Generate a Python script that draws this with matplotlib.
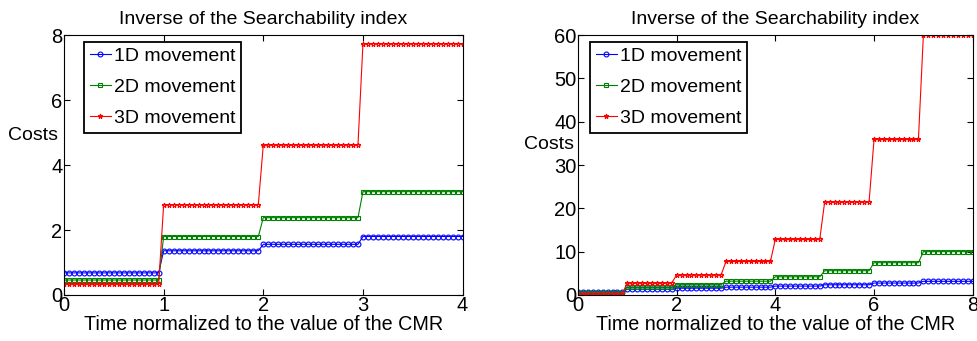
import numpy as np
import matplotlib
matplotlib.use("Agg")
from matplotlib import pyplot as plt

# step levels (one value per CMR interval)
lvl_1d = [0.68, 1.36, 1.56, 1.80, 2.05, 2.35, 2.75, 3.15]
lvl_2d = [0.46, 1.80, 2.38, 3.18, 4.2, 5.6, 7.45, 10.0]
lvl_3d = [0.33, 2.78, 4.62, 7.74, 12.85, 21.5, 35.9, 60.0]
labels = ['1D movement', '2D movement', '3D movement']
colors = ['#0000ff', '#008000', '#ff0000']
markers = ['o', 's', '*']

plt.rcParams['font.family'] = ['Liberation Sans', 'DejaVu Sans']

fig = plt.figure(figsize=(9.77, 3.41), dpi=100)
ax1 = fig.add_axes([0.0655, 0.135, 0.408, 0.762])
ax2 = fig.add_axes([0.5916, 0.135, 0.404, 0.762])

def series(levels, n_units, per_unit):
    # sample points: per_unit samples inside each unit, value jumps at integer x
    x = np.arange(n_units * per_unit + 1) / per_unit
    idx = np.minimum(np.floor(x + 1e-9).astype(int), n_units - 1)
    return x, np.array(levels)[idx]

def draw(ax, n_units, per_unit, ymax, yticks, leg_x, ylab_pos):
    for lv, lab, c, m in zip([lvl_1d, lvl_2d, lvl_3d], labels, colors, markers):
        x, y = series(lv[:n_units], n_units, per_unit)
        ax.plot(x, y, color=c, marker=m, markersize=3.5, markerfacecolor='none',
                markeredgewidth=0.8, linewidth=0.8, label=lab)
    ax.set_xlim(0, n_units)
    ax.set_ylim(0, ymax)
    ax.set_yticks(yticks)
    ax.tick_params(direction='in', top=True, right=True, labelsize=14.5, length=4, pad=1)
    ax.set_title('Inverse of the Searchability index', fontsize=14, pad=8)
    ax.set_xlabel('Time normalized to the value of the CMR', fontsize=14.2, labelpad=0)
    ax.set_ylabel('Costs', fontsize=14, rotation=0, va='center', ha='center')
    ax.yaxis.set_label_coords(ylab_pos[0], ylab_pos[1])
    leg = ax.legend(loc='upper left', bbox_to_anchor=(leg_x, 0.975), fontsize=14,
                    fancybox=False, framealpha=1, edgecolor='black',
                    handlelength=1.1, handletextpad=0.15, borderpad=0.3,
                    labelspacing=0.68, borderaxespad=0)
    leg.get_frame().set_linewidth(1.3)

draw(ax1, 4, 20, 8, [0, 2, 4, 6, 8], 0.05, (-0.078, 0.615))
draw(ax2, 8, 10, 60, [0, 10, 20, 30, 40, 50, 60], 0.03, (-0.073, 0.58))

fig.savefig('out.png', dpi=100)
